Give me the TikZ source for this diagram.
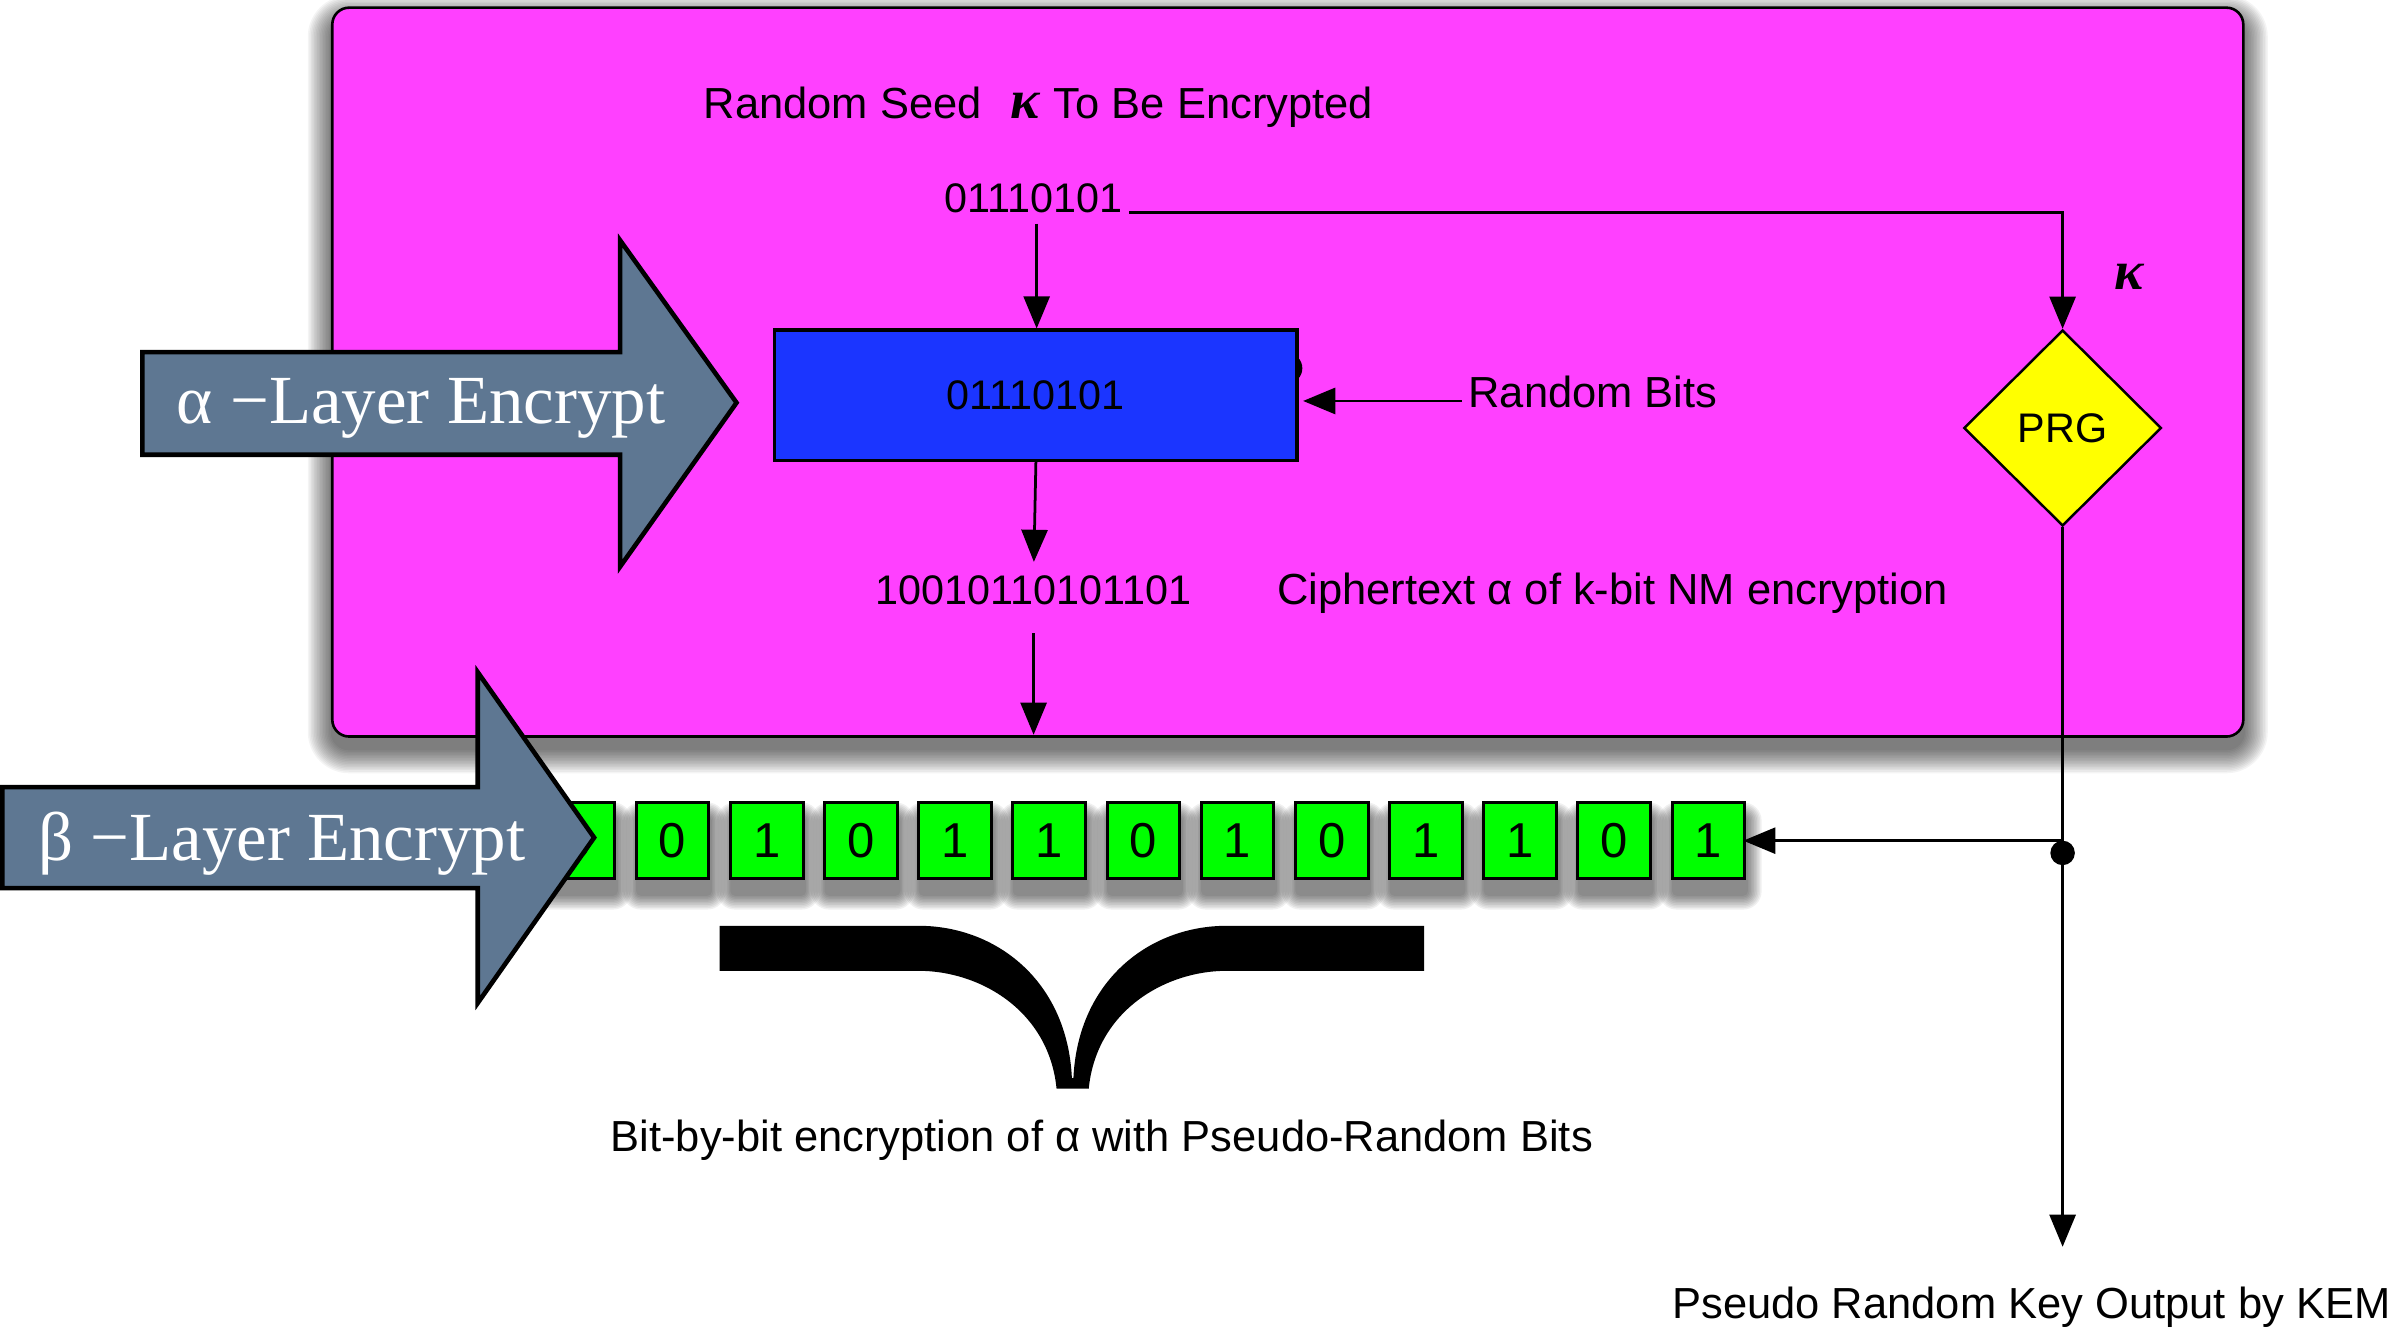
\documentclass[tikz,border=0pt]{standalone}
\usepackage{fontspec}
\setmainfont{Liberation Sans}
\newfontfamily\serifface{Liberation Serif}
\usetikzlibrary{shapes.geometric,arrows.meta,calc}

\definecolor{boxmagenta}{HTML}{FF40FF}
\definecolor{encblue}{HTML}{1B35FF}
\definecolor{bitgreen}{HTML}{00FF00}
\definecolor{prgyellow}{HTML}{FFFF00}
\definecolor{slate}{HTML}{5E7792}

% soft drop shadow: x1 y1 x2 y2 corner-radius steps opacity
\newcommand\softshadow[7]{%
  \foreach \r in {1,...,#6}{%
    \pgfmathsetmacro\rc{#5+\r}%
    \pgfmathsetmacro\sxa{#1-\r}\pgfmathsetmacro\sya{#2-\r}%
    \pgfmathsetmacro\sxb{#3+\r}\pgfmathsetmacro\syb{#4+\r}%
    \fill[black, opacity=#7, rounded corners=\rc pt] (\sxa,\sya) rectangle (\sxb,\syb);
  }%
}

\tikzset{
  lbl/.style={font=\fontsize{28.4}{32}\selectfont, inner sep=0pt, text=black},
  bits/.style={font=\fontsize{27}{32}\selectfont, inner sep=0pt, text=black},
  arr/.style={line width=1.8pt, -{Triangle[length=21pt,width=17pt]}},
  bigarrow/.style={fill=slate, draw=black, line width=3pt, line join=miter},
  arrowtext/.style={text=white, font=\serifface\fontsize{45}{50}\selectfont, inner sep=0pt},
  kappafont/.style={font=\serifface\bfseries\itshape\fontsize{36}{38}\selectfont, inner sep=0pt},
  bitbox/.style={draw=black, line width=2pt, fill=bitgreen, minimum width=47.5pt,
    minimum height=50pt, inner sep=0pt, font=\fontsize{32}{36}\selectfont},
}

\begin{document}
\begin{tikzpicture}[x=1pt, y=-1pt]
\useasboundingbox (0,0) rectangle (1568,868);

% ---- alpha layer container ----
\softshadow{217}{13}{1465}{489}{11}{16}{0.045}
\node[draw=black, line width=1.7pt, fill=boxmagenta, rounded corners=11pt,
      minimum width=1248pt, minimum height=476pt, inner sep=0pt] (layer) at (841,243) {};

\node[lbl, anchor=base west] (seedtitle) at (459.4,77.3)
  {Random Seed\hspace{19pt}{\serifface\bfseries\itshape\fontsize{36}{38}\selectfont κ}\hspace{9pt}To Be Encrypted};
\node[bits, anchor=base] (seedbits) at (675,138.6) {01110101};

% stray glyph peeking out behind the encryption box
\fill[black] (840.5,240.5) circle (10);
\node[draw=black, line width=2pt, fill=encblue, minimum width=341pt, minimum height=85pt,
      inner sep=0pt, bits] (encbox) at (676.5,258) {01110101};

\node[lbl, anchor=base west] (rbits) at (958.8,266) {Random Bits};
\node[draw=black, line width=1.6pt, fill=prgyellow, shape=diamond, aspect=1,
      minimum width=129pt, minimum height=128pt, inner sep=0pt, bits] (prg) at (1347,279.5) {PRG};
\node[kappafont] (kappa) at (1390.7,180.7) {κ};

\node[bits, anchor=base] (cipherbits) at (675,395) {10010110101101};
\node[lbl, anchor=base west] (ciphertext) at (834,395) {Ciphertext α of k-bit NM encryption};

\draw[arr] ([xshift=2pt, yshift=-7pt]seedbits.south) -- ([xshift=2pt]seedbits.south |- encbox.north);
\draw[arr] ([xshift=4pt]seedbits.base east) -| (prg.north);
\draw[arr] ([xshift=-4pt, yshift=-6pt]rbits.west) -- ([xshift=3pt, yshift=-6pt]encbox.east |- rbits.west);
\draw[arr, shorten >=9pt] (encbox.south) -- (cipherbits.north);
\draw[arr, shorten <=18pt, shorten >=2pt] (cipherbits.south) -- (cipherbits.south |- layer.south);

% ---- alpha layer arrow ----
\path[bigarrow] (93,230) -- (405,230) -- (405,157) -- (481,263) -- (405,370) -- (405,297) -- (93,297) -- cycle;
\node[arrowtext, anchor=base] (alphatext) at (275,276.5) {α −Layer Encrypt};

% ---- bit row ----
\foreach \n in {0,...,12}{%
  \pgfmathsetmacro\bl{377.7+61.5*\n-22.75}%
  \pgfmathsetmacro\br{377.7+61.5*\n+24.75}%
  \softshadow{\bl}{534}{\br}{584}{2}{10}{0.06}
}
\foreach \d [count=\n] in {0,0,1,0,1,1,0,1,0,1,1,0,1}{%
  \pgfmathtruncatemacro\idx{\n-1}%
  \pgfmathsetmacro\bx{377.7+61.5*(\n-1)}%
  \node[bitbox] (b\idx) at (\bx,549) {\d};
}

% ---- beta layer arrow ----
\path[bigarrow] (1.5,514) -- (312,514) -- (312,439) -- (388,547) -- (312,655) -- (312,580) -- (1.5,580) -- cycle;
\node[arrowtext, anchor=base] (betatext) at (184,561.7) {β −Layer Encrypt};

% ---- brace under the bit row ----
\fill[black] (470,604.6) -- (600,604.6)
  .. controls (650,604.6) and (697,640) .. (700,704) -- (701,704)
  .. controls (704,640) and (751,604.6) .. (801,604.6) -- (930,604.6) -- (930,634) -- (801,634)
  .. controls (761,634) and (716,660) .. (711,711) -- (690,711)
  .. controls (685,660) and (640,634) .. (600,634) -- (470,634) -- cycle;
\node[lbl, anchor=base] (caption) at (719.5,752) {Bit-by-bit encryption of α with Pseudo-Random Bits};

% ---- PRG output ----
\node[lbl, anchor=base west] (keyout) at (1092,861) {Pseudo Random Key Output by KEM};
\draw[arr, shorten >=26pt] (prg.south) -- (prg.south |- keyout.north);
\node[circle, fill=black, inner sep=0pt, minimum size=16pt] (split) at (1347,557) {};
\draw[arr, shorten >=-2pt] (prg.south |- b12.east) -- (b12.east);
\end{tikzpicture}
\end{document}
